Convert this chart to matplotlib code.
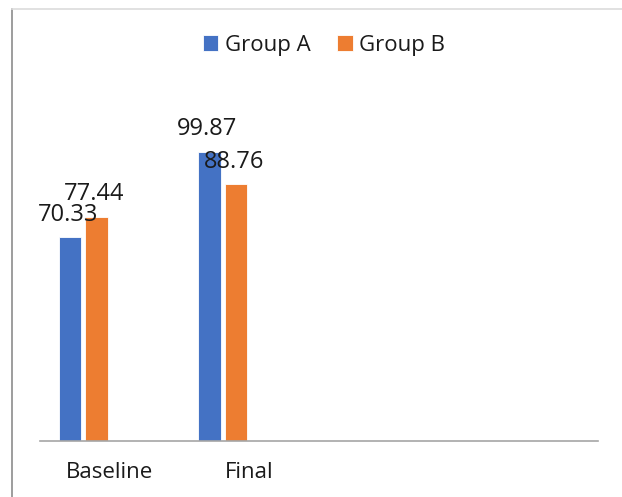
import numpy as np
import matplotlib.pyplot as plt
from matplotlib.lines import Line2D

plt.rcParams['font.family'] = ['Open Sans', 'DejaVu Sans']

# data
categories = ['Baseline', 'Final', '', '']
group_a = [70.33, 99.87]
group_b = [77.44, 88.76]
series_names = ['Group A', 'Group B']
colors = ['#4472C4', '#ED7D31']

W, H = 622, 497
fig = plt.figure(figsize=(W / 100, H / 100), dpi=100)

# plot area in pixels: x 40..598, baseline at y=441, ~2.895 px per unit
ymax = 120
px_per_unit = 2.895
ax_h = ymax * px_per_unit
ax = fig.add_axes([40 / W, (H - 441) / H, 558 / W, ax_h / H])

x = np.arange(len(categories))
width = 0.158
slot = 0.19
offsets = [-1.5 * slot, -0.5 * slot]  # 4 series slots per category, two used

for vals, name, c, off in zip([group_a, group_b], series_names, colors, offsets):
    xs = x[:len(vals)] + off
    bars = ax.bar(xs, vals, width=width, color=c, edgecolor='white',
                  linewidth=0.6, label=name)
    for b, v in zip(bars, vals):
        ax.annotate(f'{v:.2f}', (b.get_x() + b.get_width() / 2, v),
                    xytext=(-1.5, 7.5), textcoords='offset points',
                    ha='center', va='bottom', fontsize=17, color='#1a1a1a')

ax.set_xlim(-0.5, len(categories) - 0.5)
ax.set_ylim(0, ymax)
ax.set_xticks(x)
ax.set_xticklabels(categories, fontsize=16, color='#1a1a1a')
ax.tick_params(axis='x', length=0, pad=15)
ax.set_yticks([])
for s in ['top', 'right', 'left']:
    ax.spines[s].set_visible(False)
ax.spines['bottom'].set_color('#a6a6a6')
ax.spines['bottom'].set_linewidth(1.2)

fig.legend(loc='center', bbox_to_anchor=(324 / W, 1 - 45 / H), ncol=2,
           frameon=False, fontsize=16, handlelength=0.7, handleheight=0.7,
           handletextpad=0.3, columnspacing=1.2, labelcolor='#1a1a1a')

# outer frame lines
fig.add_artist(Line2D([12 / W, 12 / W], [0, 1 - 9 / H], transform=fig.transFigure,
                      color='#8c8c8c', linewidth=1.2))
fig.add_artist(Line2D([12 / W, 1], [1 - 9 / H, 1 - 9 / H], transform=fig.transFigure,
                      color='#dcdcdc', linewidth=1.2))

fig.savefig('out.png', dpi=100)
